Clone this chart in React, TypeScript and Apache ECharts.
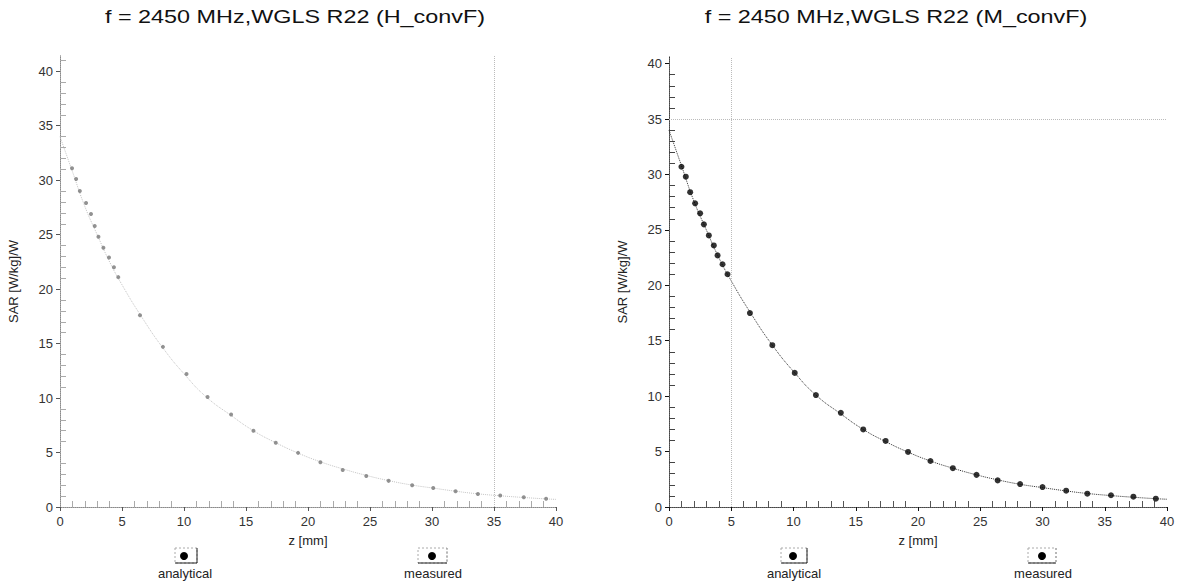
import React, { useEffect, useRef } from "react";
import * as echarts from "echarts";

// ---- data ----
const titles = ["f = 2450 MHz,WGLS R22 (H_convF)", "f = 2450 MHz,WGLS R22 (M_convF)"];
const xTicks = [0, 5, 10, 15, 20, 25, 30, 35, 40];
const yTicks = [0, 5, 10, 15, 20, 25, 30, 35, 40];

const measuredZLeft = [0.97, 1.3, 1.6, 2.1, 2.5, 2.8, 3.1, 3.5, 3.95, 4.35, 4.7, 6.45, 8.3, 10.2, 11.9, 13.8, 15.6, 17.4, 19.2, 21.0, 22.8, 24.7, 26.5, 28.4, 30.1, 31.9, 33.7, 35.5, 37.4, 39.2];
const measuredSarLeft = [31.1, 30.1, 29.0, 27.9, 26.9, 25.8, 24.8, 23.8, 22.9, 22.0, 21.1, 17.6, 14.7, 12.2, 10.1, 8.5, 7.0, 5.9, 4.97, 4.1, 3.4, 2.85, 2.4, 2.0, 1.75, 1.45, 1.2, 1.05, 0.9, 0.75];

const measuredZRight = [1.0, 1.35, 1.7, 2.1, 2.5, 2.8, 3.2, 3.6, 3.9, 4.3, 4.7, 6.5, 8.3, 10.1, 11.8, 13.8, 15.6, 17.4, 19.2, 21.0, 22.8, 24.7, 26.4, 28.2, 30.0, 31.9, 33.6, 35.5, 37.3, 39.1];
const measuredSarRight = [30.7, 29.8, 28.4, 27.4, 26.5, 25.5, 24.5, 23.6, 22.7, 21.9, 21.0, 17.5, 14.6, 12.1, 10.1, 8.5, 7.0, 5.96, 4.97, 4.15, 3.5, 2.9, 2.4, 2.07, 1.8, 1.47, 1.2, 1.06, 0.93, 0.75];

const analyticalZ = [0, 1, 2, 3, 4, 5, 6.5, 8.3, 10.1, 11.8, 13.8, 15.6, 17.4, 19.2, 21.0, 22.8, 24.7, 26.4, 28.2, 30.0, 31.9, 33.6, 35.5, 37.3, 39.1, 40];
const analyticalSar = [34.0, 30.8, 27.6, 25.0, 22.5, 20.4, 17.6, 14.6, 12.1, 10.1, 8.4, 7.0, 5.9, 4.95, 4.15, 3.5, 2.9, 2.45, 2.05, 1.75, 1.45, 1.22, 1.03, 0.88, 0.75, 0.7];

const guideXLeft = [35];
const guideXRight = [5];
const guideYRight = [35];

const legendLabels = ["analytical", "measured"];

const zip = (a: number[], b: number[]) => a.map((v, i) => [v, b[i]]);

export default function App() {
  const ref = useRef<HTMLDivElement>(null);
  useEffect(() => {
    document.body.style.margin = "0";
    const chart = echarts.init(ref.current!, undefined, { renderer: "svg" });
    const font = "Liberation Sans, Arial, sans-serif";

    const grids = [
      { left: 60, right: 626, top: 56, bottom: 76, yMax: 41.4, axisColor: "#555", dot: "#777", size: 4, line: "#c4c4c4" },
      { left: 669, right: 15, top: 57, bottom: 76, yMax: 40.6, axisColor: "#111", dot: "#000", size: 6, line: "#333" },
    ];

    const xAxes: any[] = [];
    const yAxes: any[] = [];
    grids.forEach((g, gi) => {
      const labelFmt = (v: number) => (xTicks.includes(v) ? String(v) : "");
      const yFmt = (v: number) => (yTicks.includes(v) ? String(v) : "");
      xAxes.push({
        type: "value", gridIndex: gi, min: 0, max: 40, interval: 5, position: "bottom",
        name: "z [mm]", nameLocation: "middle", nameGap: 27,
        nameTextStyle: { fontFamily: font, fontSize: 13, color: "#222" },
        axisLine: { show: true, lineStyle: { color: g.axisColor, width: 1 } },
        axisTick: { show: true, inside: false, length: 4, lineStyle: { color: g.axisColor } },
        axisLabel: { formatter: labelFmt, fontFamily: font, fontSize: 13, color: "#333", margin: 8 },
        splitLine: { show: false },
      });
      xAxes.push({
        type: "value", gridIndex: gi, min: 0, max: 40, interval: 5, position: "bottom",
        axisLine: { show: false }, axisLabel: { show: false },
        axisTick: { show: false, inside: true },
        minorTick: { show: true, splitNumber: 5, length: 6, lineStyle: { color: gi === 0 ? "#aaa" : "#555" } },
        splitLine: { show: false },
      });
      xAxes.push({
        type: "value", gridIndex: gi, min: 0, max: 40, position: "top",
        axisLine: { show: true, lineStyle: { color: gi === 0 ? "#aaa" : "#666", type: "dotted", width: 1 } },
        axisLabel: { show: false }, axisTick: { show: false }, splitLine: { show: false },
      });
      yAxes.push({
        type: "value", gridIndex: gi, min: 0, max: g.yMax, interval: 5, position: "left",
        name: "SAR [W/kg]/W", nameLocation: "middle", nameGap: 40, nameRotate: 90,
        nameTextStyle: { fontFamily: font, fontSize: 13, color: "#222" },
        axisLine: { show: true, lineStyle: { color: g.axisColor, width: 1 } },
        axisTick: { show: true, inside: false, length: 4, lineStyle: { color: g.axisColor } },
        axisLabel: { formatter: yFmt, fontFamily: font, fontSize: 13, color: "#333", margin: 7, showMaxLabel: false },
        splitLine: { show: false },
      });
      yAxes.push({
        type: "value", gridIndex: gi, min: 0, max: g.yMax, interval: 5, position: "left",
        axisLine: { show: false }, axisLabel: { show: false },
        axisTick: { show: false, inside: true },
        minorTick: { show: true, splitNumber: 5, length: 6, lineStyle: { color: gi === 0 ? "#aaa" : "#444" } },
        splitLine: { show: false },
      });
      yAxes.push({
        type: "value", gridIndex: gi, min: 0, max: g.yMax, position: "right",
        axisLine: { show: true, lineStyle: { color: gi === 0 ? "#aaa" : "#666", type: "dotted", width: 1 } },
        axisLabel: { show: false }, axisTick: { show: false }, splitLine: { show: false },
      });
    });

    const guideLines = [
      guideXLeft.map((v) => ({ xAxis: v })),
      [...guideXRight.map((v) => ({ xAxis: v })), ...guideYRight.map((v) => ({ yAxis: v }))],
    ];
    const measured = [zip(measuredZLeft, measuredSarLeft), zip(measuredZRight, measuredSarRight)];

    const series: any[] = [];
    grids.forEach((g, gi) => {
      series.push({
        name: legendLabels[0], type: "line", xAxisIndex: gi * 3, yAxisIndex: gi * 3,
        data: zip(analyticalZ, analyticalSar), showSymbol: false, smooth: true,
        lineStyle: { color: g.line, width: 1, type: "dotted" },
        z: 2,
      });
      series.push({
        name: legendLabels[1], type: "scatter", xAxisIndex: gi * 3, yAxisIndex: gi * 3,
        data: measured[gi], symbol: "circle", symbolSize: g.size,
        itemStyle: { color: g.dot },
        markLine: {
          silent: true, symbol: "none", label: { show: false },
          lineStyle: { color: "#bbb", type: "dotted", width: 1 },
          data: guideLines[gi],
        },
        z: 3,
      });
    });

    const legendItem = (cx: number, label: string, dashed: boolean, x0: number, x1: number) => ({
      type: "group",
      children: [
        {
          type: "rect", shape: { x: x0, y: 548, width: x1 - x0, height: 15 },
          style: { fill: "none", stroke: "#aaa", lineWidth: 1, lineDash: [2, 2] },
        },
        {
          type: "line", shape: { x1: x0, y1: 563, x2: x1, y2: 563 },
          style: { stroke: "#222", lineWidth: 1 },
        },
        dashed
          ? { type: "line", shape: { x1: x1, y1: 548, x2: x1, y2: 563 }, style: { stroke: "#999", lineWidth: 1, lineDash: [2, 2] } }
          : { type: "line", shape: { x1: x1, y1: 548, x2: x1, y2: 563 }, style: { stroke: "#222", lineWidth: 1 } },
        { type: "circle", shape: { cx, cy: 556, r: 4 }, style: { fill: "#000" } },
        {
          type: "text", x: cx + 1, y: 573,
          style: { text: label, fontFamily: font, fontSize: 13, fill: "#222", align: "center", verticalAlign: "middle" },
        },
      ],
    });

    const titleText = (cx: number, text: string) => ({
      type: "text", x: cx, y: 17, scaleX: 1.3, scaleY: 1,
      style: { text, fontFamily: font, fontSize: 18, fill: "#111", align: "center", verticalAlign: "middle" },
    });

    chart.setOption({
      animation: false,
      backgroundColor: "#fff",
      grid: grids.map((g) => ({ left: g.left, right: g.right, top: g.top, bottom: g.bottom })),
      xAxis: xAxes,
      yAxis: yAxes,
      series,
      graphic: [
        titleText(295, titles[0]),
        titleText(896, titles[1]),
        legendItem(184, legendLabels[0], false, 175, 197),
        legendItem(432, legendLabels[1], true, 418, 447),
        legendItem(793, legendLabels[0], false, 781, 807),
        legendItem(1042, legendLabels[1], true, 1028, 1056),
      ],
    });
    return () => chart.dispose();
  }, []);
  return <div ref={ref} style={{ width: 1182, height: 583 }} />;
}
